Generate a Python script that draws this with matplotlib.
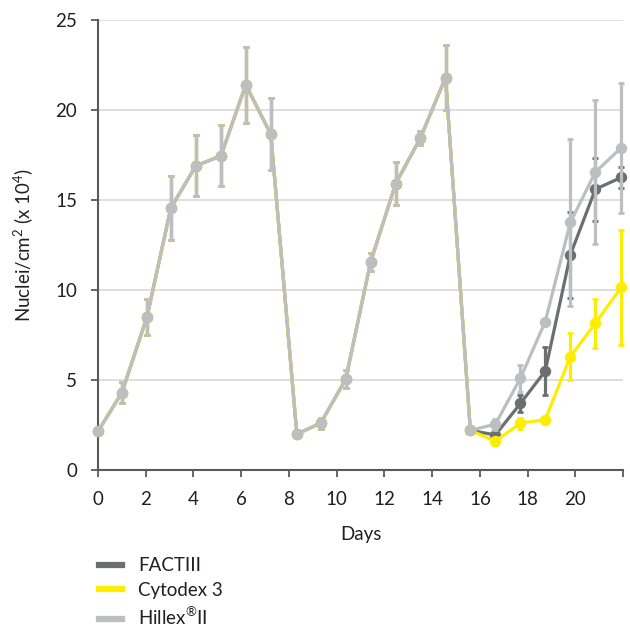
import matplotlib.pyplot as plt
from matplotlib.lines import Line2D

plt.rcParams['font.family'] = ['Lato', 'DejaVu Sans']
plt.rcParams['mathtext.fontset'] = 'custom'
plt.rcParams['mathtext.rm'] = 'Lato'

# days where nuclei were counted
days = [0, 1.0, 2.05, 3.05, 4.1, 5.15, 6.19, 7.24, 8.33, 9.33, 10.38,
        11.42, 12.47, 13.51, 14.56, 15.6, 16.65, 17.7, 18.74, 19.79, 20.84, 21.92]

# shared part of the culture (all three carriers identical until day 15.6)
shared = [2.15, 4.3, 8.5, 14.55, 16.9, 17.45, 21.4, 18.65, 2.0, 2.6, 5.05,
          11.55, 15.9, 18.45, 21.8, 2.2]
shared_err = [0.1, 0.6, 1.0, 1.8, 1.7, 1.7, 2.1, 2.0, 0.1, 0.3, 0.5,
              0.5, 1.2, 0.4, 1.8, 0.1]

fact_tail = [1.95, 3.7, 5.5, 11.95, 15.6, 16.25]
fact_tail_err = [0.2, 0.45, 1.35, 2.4, 1.75, 0.57]
cyto_tail = [1.6, 2.6, 2.8, 6.3, 8.15, 10.15]
cyto_tail_err = [0.2, 0.3, 0.0, 1.3, 1.35, 3.2]
hill_tail = [2.55, 5.1, 8.25, 13.75, 16.55, 17.9]
hill_tail_err = [0.3, 0.75, 0.0, 4.65, 4.0, 3.6]

series = [
    ('FACTIII', fact_tail, fact_tail_err, '#6d6e71'),
    ('Cytodex 3', cyto_tail, cyto_tail_err, '#ffed00'),
    ('Hillex$^{®}$II', hill_tail, hill_tail_err, '#bcbec0'),
]

fig = plt.figure(figsize=(6.3, 6.32), dpi=100)
ax = fig.add_axes([0.1556, 0.2563, 0.8334, 0.7121])

for i, (name, tail, tail_err, col) in enumerate(series):
    vals = shared + tail
    errs = shared_err + tail_err
    ax.errorbar(days, vals, yerr=errs, color=col, lw=2.3, marker='o', ms=7.2,
                elinewidth=2.3, capsize=2.5, capthick=2.0, zorder=3 + i,
                clip_on=False, label=name)

ax.set_xlim(0, 22)
ax.set_ylim(0, 25)
ax.set_xticks(range(0, 23, 2))
ax.set_xticklabels([str(t) for t in range(0, 21, 2)] + [''])
ax.set_yticks(range(0, 26, 5))
ax.grid(axis='y', color='#d9d9d9', lw=1.2, zorder=0)
ax.set_axisbelow(True)
for s in ['top', 'right']:
    ax.spines[s].set_visible(False)
for s in ['left', 'bottom']:
    ax.spines[s].set_color('#58595b')
    ax.spines[s].set_linewidth(1.5)
ax.tick_params(colors='#58595b', labelcolor='#231f20', labelsize=13.5,
               length=5, width=1.3, pad=10)
ax.set_xlabel('Days', fontsize=13.5, color='#231f20', labelpad=13)
ax.set_ylabel('Nuclei/cm$^2$ (x 10$^4$)', fontsize=13.5, color='#231f20', labelpad=14)

handles = [Line2D([], [], color=c, lw=4.5) for _, _, _, c in series]
fig.legend(handles, [s[0] for s in series], loc='upper left',
           bbox_to_anchor=(0.14, 0.136), frameon=False, fontsize=13.5,
           handlelength=1.2, handletextpad=0.85, labelspacing=0.4,
           labelcolor='#231f20', borderaxespad=0.2)

fig.savefig('out.png', dpi=100)
